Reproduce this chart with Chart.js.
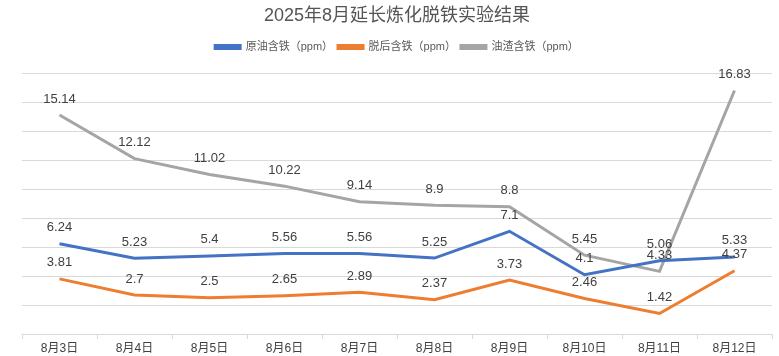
<!DOCTYPE html>
<html>
<head>
<meta charset="utf-8">
<script src="https://cdn.jsdelivr.net/npm/chart.js@4/dist/chart.umd.min.js"></script>
<style>
  html, body { margin: 0; padding: 0; background: #fff; }
  #wrap { width: 779px; height: 356px; }
</style>
</head>
<body>
<div id="wrap"><canvas id="chart"></canvas></div>
<script>
// Categories and series
const days = ['8月3日', '8月4日', '8月5日', '8月6日', '8月7日', '8月8日', '8月9日', '8月10日', '8月11日', '8月12日'];
const crudeFe = [6.24, 5.23, 5.4, 5.56, 5.56, 5.25, 7.1, 4.1, 5.06, 5.33];
const treatedFe = [3.81, 2.7, 2.5, 2.65, 2.89, 2.37, 3.73, 2.46, 1.42, 4.37];
const residueFe = [15.14, 12.12, 11.02, 10.22, 9.14, 8.9, 8.8, 5.45, 4.33, 16.83];

const fontFamily = '"Liberation Sans", Arial, "Noto Sans CJK SC", sans-serif';

// Draw value labels above each point
const valueLabels = {
    id: 'valueLabels',
    afterDatasetsDraw(chart) {
        const ctx = chart.ctx;
        ctx.save();
        ctx.font = '13px ' + fontFamily;
        ctx.fillStyle = '#404040';
        ctx.textAlign = 'center';
        ctx.textBaseline = 'middle';
        chart.data.datasets.forEach((ds, i) => {
            chart.getDatasetMeta(i).data.forEach((pt, j) => {
                ctx.fillText(String(ds.data[j]), pt.x, pt.y - 16);
            });
        });
        ctx.restore();
    }
};

// Leave some room below the legend
const legendSpace = {
    id: 'legendSpace',
    beforeInit(chart) {
        const fit = chart.legend.fit;
        chart.legend.fit = function () {
            fit.call(this);
            this.height += 11;
        };
    }
};

function line(label, data, color) {
    return {
        label: label,
        data: data,
        borderColor: color,
        backgroundColor: color,
        borderWidth: 3,
        pointRadius: 0,
        tension: 0
    };
}

new Chart(document.getElementById('chart'), {
    type: 'line',
    data: {
        labels: days,
        datasets: [
            line('原油含铁（ppm）', crudeFe, '#4472C4'),
            line('脱后含铁（ppm）', treatedFe, '#ED7D31'),
            line('油渣含铁（ppm）', residueFe, '#A5A5A5')
        ]
    },
    options: {
        responsive: true,
        maintainAspectRatio: false,
        animation: false,
        layout: { padding: { left: 22, right: 7, top: 0, bottom: 0 } },
        plugins: {
            title: {
                display: true,
                text: '2025年8月延长炼化脱铁实验结果',
                color: '#555555',
                font: { family: fontFamily, size: 18, weight: 'normal' },
                padding: { top: 5, bottom: 10 }
            },
            legend: {
                display: true,
                labels: {
                    color: '#595959',
                    font: { family: fontFamily, size: 11 },
                    boxWidth: 25,
                    boxHeight: 3,
                    padding: 5
                }
            },
            tooltip: { enabled: false }
        },
        scales: {
            x: {
                offset: true,
                border: { color: '#d9d9d9' },
                grid: { drawOnChartArea: false, drawTicks: true, tickLength: 5, color: '#d9d9d9', offset: true },
                ticks: { color: '#404040', font: { family: fontFamily, size: 12 }, padding: 2, maxRotation: 0 },
                afterFit: s => { s.height = 22; }
            },
            y: {
                min: 0,
                max: 18,
                border: { display: false },
                grid: { color: '#d9d9d9', drawTicks: false },
                ticks: { display: false, stepSize: 2 },
                afterFit: s => { s.width = 0; }
            }
        }
    },
    plugins: [valueLabels, legendSpace]
});
</script>
</body>
</html>
